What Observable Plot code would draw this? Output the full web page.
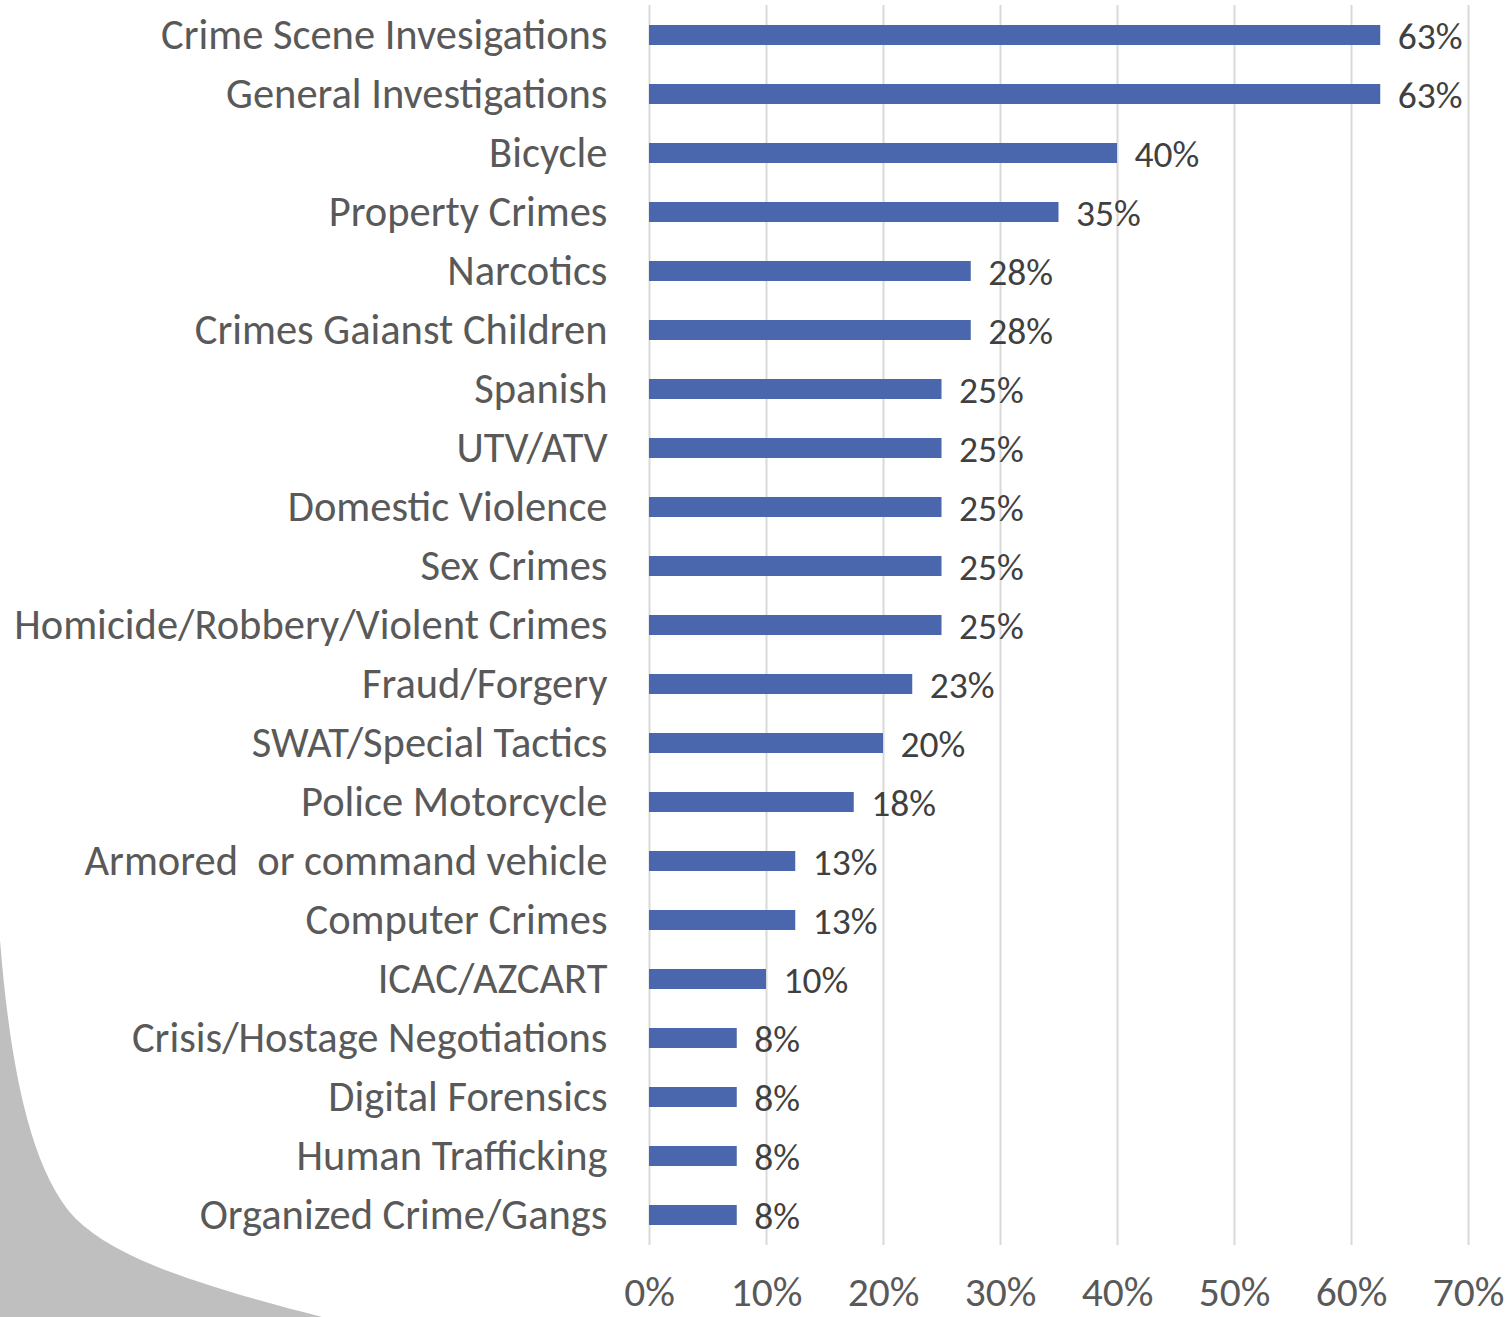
<!DOCTYPE html>
<html>
<head>
<meta charset="utf-8">
<script src="https://cdn.jsdelivr.net/npm/d3@7"></script>
<script src="https://cdn.jsdelivr.net/npm/@observablehq/plot@0.6"></script>
<style>
  html, body { margin: 0; padding: 0; background: #ffffff; }
  #wrap { position: relative; width: 1508px; height: 1317px; overflow: hidden; }
  #deco { position: absolute; left: 0; top: 0; }
  #chart { position: absolute; left: 0; top: 0; }
</style>
</head>
<body>
<div id="wrap">
  <svg id="deco" width="1508" height="1317">
    <path d="M0,940 C8,1040 25,1165 75,1218 C98,1240 125,1254 165,1270 C222,1291 272,1304 322,1317 L0,1317 Z" fill="#bfbfbf"/>
  </svg>
  <div id="chart"></div>
</div>
<script>
const categories = [
  "Crime Scene Invesigations",
  "General Investigations",
  "Bicycle",
  "Property Crimes",
  "Narcotics",
  "Crimes Gaianst Children",
  "Spanish",
  "UTV/ATV",
  "Domestic Violence",
  "Sex Crimes",
  "Homicide/Robbery/Violent Crimes",
  "Fraud/Forgery",
  "SWAT/Special Tactics",
  "Police Motorcycle",
  "Armored  or command vehicle",
  "Computer Crimes",
  "ICAC/AZCART",
  "Crisis/Hostage Negotiations",
  "Digital Forensics",
  "Human Trafficking",
  "Organized Crime/Gangs"
];
const values = [62.5, 62.5, 40, 35, 27.5, 27.5, 25, 25, 25, 25, 25, 22.5, 20, 17.5, 12.5, 12.5, 10, 7.5, 7.5, 7.5, 7.5];
const xTicks = [0, 10, 20, 30, 40, 50, 60, 70];

const data = categories.map((c, i) => ({category: c, value: values[i]}));
const font = "Carlito, Calibri, sans-serif";

const chart = Plot.plot({
  width: 1508,
  height: 1317,
  marginLeft: 649,
  marginRight: 40,
  marginTop: 5,
  marginBottom: 72,
  style: {fontFamily: font, fontSize: "42px", color: "#595959", background: "transparent"},
  x: {domain: [0, 70], label: null},
  y: {domain: categories, paddingInner: 0.66, paddingOuter: 0.33, label: null},
  marks: [
    Plot.gridX(xTicks, {stroke: "#d9d9d9", strokeOpacity: 1, strokeWidth: 2}),
    Plot.barX(data, {x: "value", y: "category", fill: "#4a67ad"}),
    Plot.text(data, {x: "value", y: "category", text: d => Math.round(d.value) + "%", dx: 17, dy: 1, textAnchor: "start", fill: "#404040", fontSize: 37.5}),
    Plot.axisX(xTicks, {tickFormat: d => d + "%", tickSize: 0, tickPadding: 31, fill: "#595959", fontSize: 41.5, label: null}),
    Plot.axisY({tickSize: 0, tickPadding: 42, fill: "#595959", fontSize: 42.5, label: null})
  ]
});
document.getElementById("chart").appendChild(chart);
</script>
</body>
</html>
